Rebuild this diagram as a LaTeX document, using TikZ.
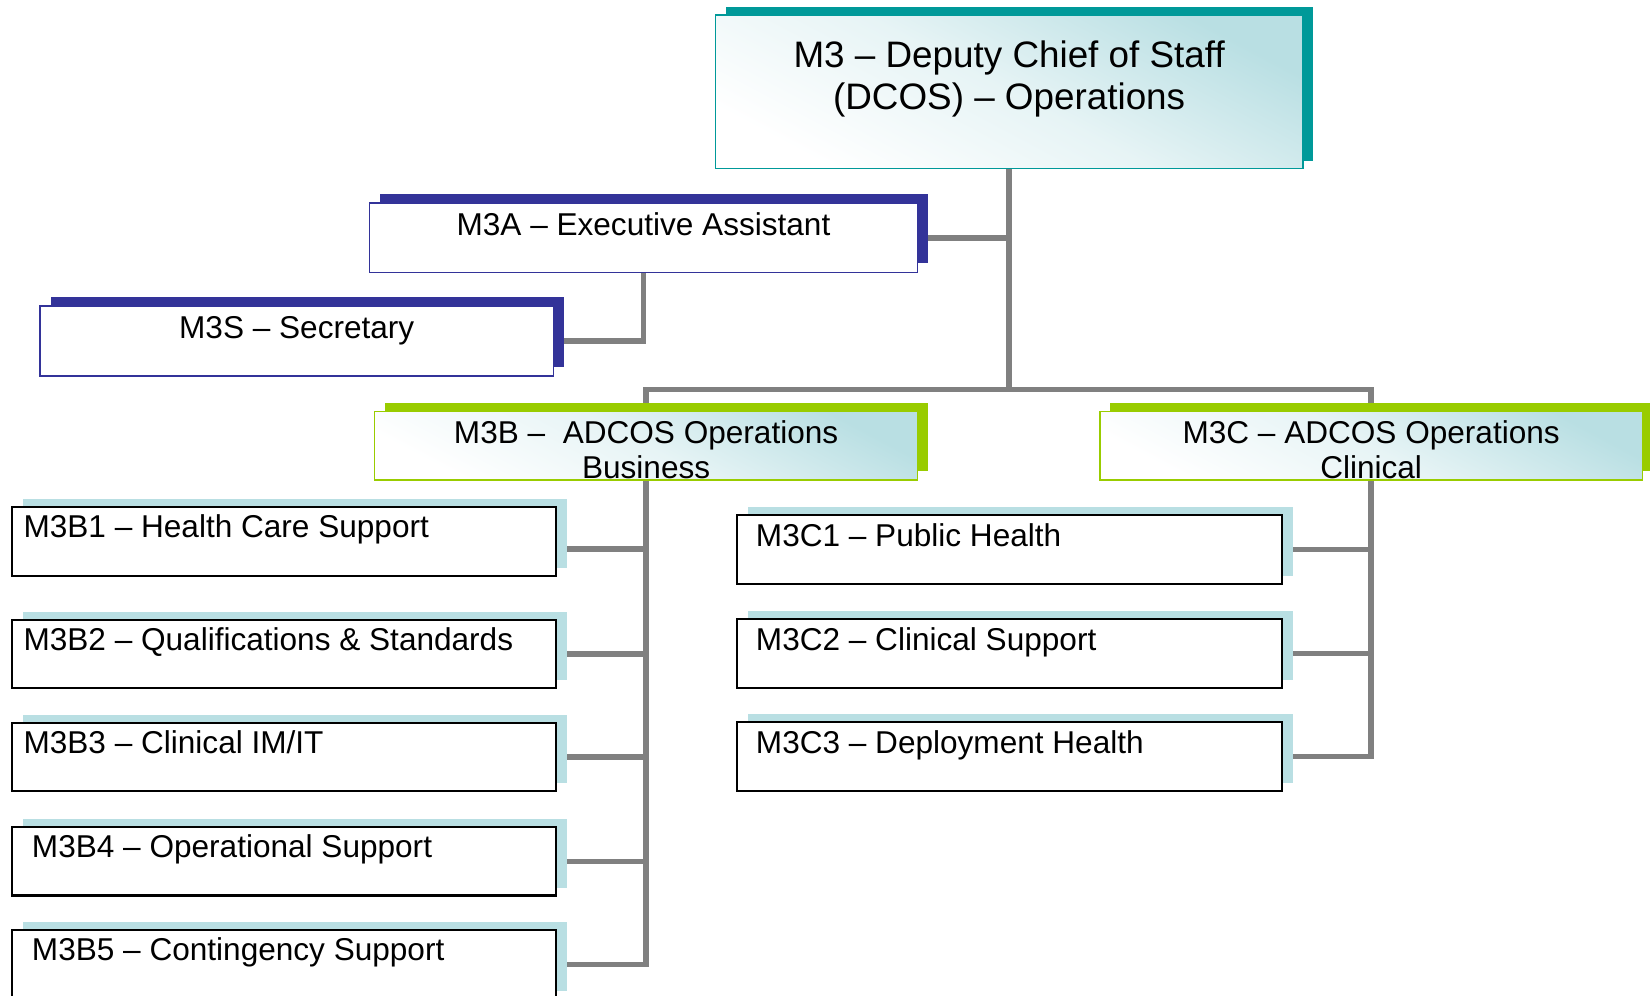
\documentclass[tikz,border=0pt]{standalone}
\usepackage{fontspec}
\setmainfont{Liberation Sans}
\usetikzlibrary{shadows,backgrounds}
\definecolor{tealS}{RGB}{0,153,153}
\definecolor{navyS}{RGB}{51,51,153}
\definecolor{greenS}{RGB}{153,204,0}
\definecolor{lbS}{RGB}{185,223,227}
\definecolor{connG}{RGB}{128,128,128}
\newcommand{\titlefont}{\fontsize{17.5pt}{20pt}\selectfont}
\newcommand{\boxfont}{\fontsize{15pt}{17pt}\selectfont}
\begin{document}
\begin{tikzpicture}[x=0.5pt,y=-0.5pt,
  box/.style={rectangle, inner sep=0pt, outer sep=0pt},
  gradfill/.style={top color=lbS, bottom color=white, middle color=lbS!35!white, shading angle=-28},
  topbox/.style={box, draw=tealS, line width=0.8pt, gradfill,
    minimum width=279pt, minimum height=73pt,
    general shadow={fill=tealS, shadow xshift=5pt, shadow yshift=3.5pt}},
  navybox/.style={box, draw=navyS, line width=0.8pt, fill=white,
    minimum height=33pt,
    general shadow={fill=navyS, shadow xshift=5pt, shadow yshift=4.3pt}},
  greenbox/.style={box, draw=greenS, line width=0.8pt, gradfill,
    minimum width=258pt, minimum height=32.5pt,
    general shadow={fill=greenS, shadow xshift=5pt, shadow yshift=4pt}},
  subbox/.style={box, draw=black, line width=1pt, fill=white,
    minimum height=32.5pt,
    general shadow={fill=lbS, shadow xshift=5.3pt, shadow yshift=3.8pt}},
  ctext/.style={inner sep=0pt, anchor=base, font=\boxfont, align=center},
  ltext/.style={inner sep=0pt, anchor=base west, font=\boxfont},
  conn/.style={draw=connG, line width=2.6pt}
]
\useasboundingbox (0,0) rectangle (1568,946);

% top
\node[topbox] (m3) at (959,87) {};
\node[inner sep=0pt, anchor=base, font=\titlefont, align=center] (m3t)
  at ([yshift=-45pt]m3.north) {M3 – Deputy Chief of Staff\\(DCOS) – Operations};

\node[navybox, minimum width=260.5pt] (m3a) at (611.5,226) {};
\node[ctext] (m3at) at ([yshift=-15.5pt]m3a.north) {M3A – Executive Assistant};

\node[navybox, minimum width=244pt] (m3s) at (282,324) {};
\node[ctext] (m3st) at ([yshift=-15.5pt]m3s.north) {M3S – Secretary};

\node[greenbox] (m3b) at (614,423.5) {};
\node[ctext] (m3bt) at ([yshift=-32pt]m3b.north) {M3B –~ ADCOS Operations\\Business};

\node[greenbox] (m3c) at (1303,423.5) {};
\node[ctext] (m3ct) at ([yshift=-32pt]m3c.north) {M3C – ADCOS Operations\\Clinical};

% B column
\node[subbox, minimum width=258.5pt] (b1) at (269.5,514.5) {};
\node[ltext] (b1t) at ([xshift=5.5pt,yshift=-14.5pt]b1.north west) {M3B1 – Health Care Support};
\node[subbox, minimum width=258.5pt] (b2) at (269.5,621.5) {};
\node[ltext] (b2t) at ([xshift=5.5pt,yshift=-14.5pt]b2.north west) {M3B2 – Qualifications \& Standards};
\node[subbox, minimum width=258.5pt] (b3) at (269.5,719.5) {};
\node[ltext] (b3t) at ([xshift=5.5pt,yshift=-14.5pt]b3.north west) {M3B3 – Clinical IM/IT};
\node[subbox, minimum width=258.5pt] (b4) at (269.5,818.5) {};
\node[ltext] (b4t) at ([xshift=9.5pt,yshift=-14.5pt]b4.north west) {M3B4 – Operational Support};
\node[subbox, minimum width=258.5pt] (b5) at (269.5,916.5) {};
\node[ltext] (b5t) at ([xshift=9.5pt,yshift=-14.5pt]b5.north west) {M3B5 – Contingency Support};

% C column
\node[subbox, minimum width=259pt, minimum height=33pt] (c1) at (959,522) {};
\node[ltext] (c1t) at ([xshift=9pt,yshift=-15pt]c1.north west) {M3C1 – Public Health};
\node[subbox, minimum width=259pt, minimum height=33pt] (c2) at (959,621) {};
\node[ltext] (c2t) at ([xshift=9pt,yshift=-15pt]c2.north west) {M3C2 – Clinical Support};
\node[subbox, minimum width=259pt, minimum height=33pt] (c3) at (959,719) {};
\node[ltext] (c3t) at ([xshift=9pt,yshift=-15pt]c3.north west) {M3C3 – Deployment Health};

\coordinate (bar) at (959,370);

\begin{pgfonlayer}{background}
\fill[white] (0,0) rectangle (1568,946);
\draw[conn] (m3.south) -- (bar);
\draw[conn] (m3a.east) -- (m3a.east -| m3.south);
\draw[conn] (m3a.south) |- (m3s.east);
\draw[conn] (m3b.north) |- (bar) -| (m3c.north);
\draw[conn] (m3b.south) |- (b5.east);
\draw[conn] ([yshift=-3.5pt]b1.east) -- ([yshift=-3.5pt]b1.east -| m3b.south);
\draw[conn] (b2.east) -- (b2.east -| m3b.south);
\draw[conn] (b3.east) -- (b3.east -| m3b.south);
\draw[conn] (b4.east) -- (b4.east -| m3b.south);
\draw[conn] (m3c.south) |- (c3.east);
\draw[conn] (c1.east) -- (c1.east -| m3c.south);
\draw[conn] (c2.east) -- (c2.east -| m3c.south);
\end{pgfonlayer}
\end{tikzpicture}
\end{document}
